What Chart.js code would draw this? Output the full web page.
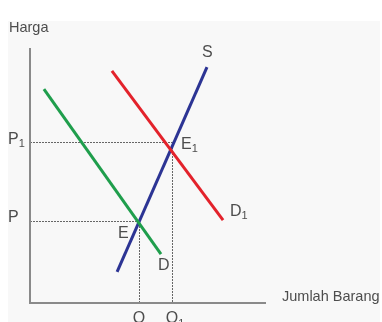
<!DOCTYPE html>
<html>
<head>
<meta charset="utf-8">
<script src="https://cdn.jsdelivr.net/npm/chart.js@4"></script>
<style>
  html, body { margin: 0; padding: 0; background: #ffffff; }
  #wrap { width: 382px; height: 322px; }
</style>
</head>
<body>
<div id="wrap"><canvas id="chart" width="382" height="322"></canvas></div>
<script>
// Supply and demand shift: quantity (x) against price (y), both 0..100
const curveNames = ['D', 'D1', 'S'];
const qtyD = [5.9, 55.5];
const priceD = [83.9, 19.2];
const qtyD1 = [34.7, 81.8];
const priceD1 = [91.0, 32.5];
const qtyS = [36.9, 75.0];
const priceS = [12.2, 92.5];

// Equilibrium points and their axis labels
const eqNames = ['E', 'E1'];
const eqQty = [46.2, 60.2];
const eqPrice = [32.2, 63.1];
const priceLabels = ['P', 'P1'];
const qtyLabels = ['Q', 'Q1'];

const axisTitleX = 'Jumlah Barang';
const axisTitleY = 'Harga';

const FONT = '"Liberation Sans", Arial, sans-serif';
const TEXT = '#4d4d4d';

function toPoints(xs, ys) {
    return xs.map((x, i) => ({ x: x, y: ys[i] }));
}

function curve(label, xs, ys, color) {
    return {
        label: label,
        data: toPoints(xs, ys),
        showLine: true,
        borderColor: color,
        backgroundColor: color,
        borderWidth: 3,
        pointRadius: 0,
        borderCapStyle: 'butt'
    };
}

// Letter with an optional subscript, e.g. "P1" -> P with a small 1
function drawLabel(ctx, text, x, y, align) {
    const base = text[0];
    const sub = text.slice(1);
    ctx.font = '16px ' + FONT;
    const bw = ctx.measureText(base).width;
    ctx.font = '11px ' + FONT;
    const sw = sub ? ctx.measureText(sub).width : 0;
    let left = x;
    if (align === 'center') left = x - bw / 2;
    if (align === 'right') left = x - bw - sw;
    ctx.fillStyle = TEXT;
    ctx.textBaseline = 'middle';
    ctx.textAlign = 'left';
    ctx.font = '16px ' + FONT;
    ctx.fillText(base, left, y);
    if (sub) {
        ctx.font = '11px ' + FONT;
        ctx.fillText(sub, left + bw, y + 5);
    }
}

const diagram = {
    id: 'diagram',
    beforeDraw(chart) {
        const ctx = chart.ctx;
        ctx.save();
        ctx.fillStyle = '#f8f8f8';
        ctx.fillRect(8, 21, 372, 301);
        ctx.restore();
    },
    beforeDatasetsDraw(chart) {
        const ctx = chart.ctx;
        const a = chart.chartArea;
        const xs = chart.scales.x;
        const ys = chart.scales.y;
        ctx.save();

        // dotted guides from each equilibrium to the axes
        ctx.strokeStyle = '#666666';
        ctx.lineWidth = 1;
        ctx.setLineDash([2, 1]);
        eqQty.forEach((q, i) => {
            const px = Math.round(xs.getPixelForValue(q)) + 0.5;
            const py = Math.round(ys.getPixelForValue(eqPrice[i])) + 0.5;
            ctx.beginPath();
            ctx.moveTo(a.left, py);
            ctx.lineTo(px, py);
            ctx.lineTo(px, a.bottom);
            ctx.stroke();
        });
        ctx.setLineDash([]);

        // axes
        ctx.strokeStyle = '#8a8a8a';
        ctx.lineWidth = 2;
        ctx.beginPath();
        ctx.moveTo(a.left, a.top);
        ctx.lineTo(a.left, a.bottom);
        ctx.lineTo(a.right, a.bottom);
        ctx.stroke();
        ctx.restore();
    },
    afterDatasetsDraw(chart) {
        const ctx = chart.ctx;
        const a = chart.chartArea;
        const xs = chart.scales.x;
        const ys = chart.scales.y;
        ctx.save();

        // axis titles
        ctx.fillStyle = TEXT;
        ctx.font = '14.5px ' + FONT;
        ctx.textBaseline = 'middle';
        ctx.textAlign = 'left';
        ctx.fillText(axisTitleY, 9, 28);
        ctx.fillText(axisTitleX, a.right + 16, a.bottom - 6);

        // price and quantity labels
        priceLabels.forEach((t, i) => {
            drawLabel(ctx, t, 8, ys.getPixelForValue(eqPrice[i]) - 3, 'left');
        });
        qtyLabels.forEach((t, i) => {
            drawLabel(ctx, t, xs.getPixelForValue(eqQty[i]), a.bottom + 16, 'center');
        });

        // equilibrium labels
        const eqOffsets = [[-21, 13], [9, 2]];
        eqNames.forEach((t, i) => {
            drawLabel(ctx, t, xs.getPixelForValue(eqQty[i]) + eqOffsets[i][0],
                ys.getPixelForValue(eqPrice[i]) + eqOffsets[i][1], 'left');
        });

        // curve labels at the end of each line
        const ends = {
            D: [qtyD[1], priceD[1], -3, 12],
            D1: [qtyD1[1], priceD1[1], 7, -9],
            S: [qtyS[1], priceS[1], -5, -15]
        };
        curveNames.forEach(n => {
            const e = ends[n];
            drawLabel(ctx, n, xs.getPixelForValue(e[0]) + e[2],
                ys.getPixelForValue(e[1]) + e[3], 'left');
        });
        ctx.restore();
    }
};

new Chart(document.getElementById('chart'), {
    type: 'scatter',
    data: {
        datasets: [
            curve('D', qtyD, priceD, '#1f9e4c'),
            curve('D1', qtyD1, priceD1, '#e3222b'),
            curve('S', qtyS, priceS, '#2c3494')
        ]
    },
    options: {
        responsive: false,
        animation: false,
        layout: { padding: { left: 30, right: 116, top: 48, bottom: 19 } },
        scales: {
            x: { type: 'linear', min: 0, max: 100, display: false },
            y: { type: 'linear', min: 0, max: 100, display: false }
        },
        plugins: {
            legend: { display: false },
            tooltip: { enabled: false }
        }
    },
    plugins: [diagram]
});
</script>
</body>
</html>
